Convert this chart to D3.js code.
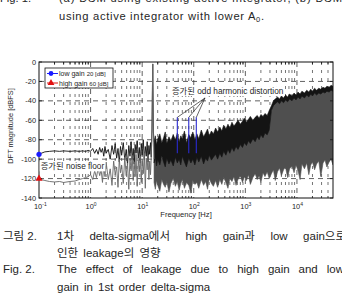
<!DOCTYPE html>
<html><head><meta charset="utf-8">
<script src="https://cdn.jsdelivr.net/npm/d3@7"></script>
<style>html,body{margin:0;padding:0;background:#fff;overflow:hidden}svg{display:block}</style>
</head><body><svg id="c" width="342" height="293"></svg>
<script>
// ---------- data ----------
const sparseF = [0.1,0.11,0.13,0.16,0.2,0.25,0.3,0.4,0.5,0.6,0.7,0.8,0.9,1.0,1.1,1.2,1.3,1.4,1.5,1.6,1.7,1.8,1.9,2.0,2.2,2.4,2.6,2.8,3.0,3.2,3.4,3.6,3.8,4.0,4.3,4.6,4.9,5.2,5.5,5.8,6.1,6.4,6.7,7.0,7.3,7.6,8.0,8.4,8.8,9.2,9.6,10,10.5,11,11.5,12,12.5,13,13.5,14,14.5,15,15.5,16,16.5,17];
const lowGainDb = [-95,-94,-92.5,-92,-91.5,-92,-91.5,-92,-91.5,-92,-91.5,-92,-91,-92,-89,-94,-90,-95,-88,-93,-89,-97,-87,-94,-90,-100,-86,-95,-84,-99,-89,-103,-87,-96,-83,-101,-90,-106,-86,-97,-82,-100,-89,-105,-85,-94,-81,-99,-88,-104,-84,-96,-80,-101,-87,-97,-82,-103,-86,-95,-83,-98,-70,-2,-72,-82];
const highGainDb = [-120,-121,-122,-123,-123.5,-123,-124,-123,-122.5,-121,-120,-119,-118,-116,-121,-112,-119,-109,-117,-111,-124,-106,-118,-103,-121,-110,-127,-102,-116,-108,-129,-100,-114,-106,-125,-98,-117,-104,-131,-99,-112,-96,-122,-103,-118,-95,-128,-101,-113,-97,-124,-100,-115,-94,-130,-99,-111,-96,-121,-102,-116,-98,-70,-2,-72,-100];

const bandF = [17,18,19,20,22,24,26,28,30,33,36,40,44,48,52,56,60,66,72,80,88,96,105,115,125,140,155,170,185,200,220,240,265,290,320,350,380,420,460,500,550,600,660,720,800,880,960,1050,1150,1250,1400,1550,1700,1850,2000,2200,2400,2650,2900,3200,3500,3800,4200,4600,5000,5500,6000,6600,7200,8000,8800,9600,10500,11500,12500,14000,15500,17000,18500,20000,22000,24000,26500,29000,32000,35000,38000,42000,46000,50000];
const lowGainTop = [-82,-76,-85,-79,-74,-83,-78,-72,-84,-77,-81,-75,-80,-73,-82,-76,-79,-71,-83,-75,-78,-72,-80,-74,-79,-70,-77,-73,-69,-76,-71,-74,-68,-72,-67,-71,-65,-69,-64,-68,-62,-66,-63,-60,-64,-61,-58,-62,-59,-56,-60,-57,-55,-58,-54,-56,-53,-55,-50,-45,-40,-38,-36,-38,-35,-37,-34,-36,-33,-35,-32,-34,-31,-33,-30,-32,-29,-31,-28,-30,-27,-29,-27,-28,-26,-27,-25,-26,-24,-25];
const lowGainBottom = [-104,-98,-107,-100,-106,-97,-103,-108,-99,-105,-101,-107,-98,-104,-100,-106,-97,-103,-108,-99,-104,-100,-106,-98,-103,-97,-105,-99,-102,-96,-101,-98,-95,-100,-94,-98,-92,-96,-90,-94,-88,-92,-87,-90,-85,-88,-83,-86,-81,-84,-79,-82,-77,-80,-75,-78,-73,-75,-70,-50,-45,-43,-41,-43,-40,-42,-39,-41,-38,-40,-37,-39,-36,-38,-35,-37,-34,-36,-33,-35,-32,-34,-32,-33,-31,-32,-30,-31,-29,-30];
const highGainTop = [-100,-96,-102,-98,-95,-101,-97,-99,-94,-100,-96,-98,-93,-99,-95,-97,-92,-98,-94,-96,-91,-97,-93,-95,-90,-96,-92,-94,-89,-95,-91,-93,-88,-92,-87,-91,-86,-90,-84,-88,-83,-87,-82,-85,-80,-83,-78,-81,-76,-79,-74,-77,-72,-75,-70,-73,-68,-71,-66,-49,-44,-42,-40,-42,-39,-41,-38,-40,-37,-39,-36,-38,-35,-37,-34,-36,-33,-35,-32,-34,-31,-33,-31,-32,-30,-31,-29,-30,-28,-29];
const highGainBottom = [-124,-131,-122,-127,-133,-121,-126,-129,-123,-134,-125,-120,-128,-123,-132,-125,-121,-130,-124,-127,-135,-122,-126,-124,-130,-121,-127,-123,-131,-120,-125,-128,-122,-129,-121,-126,-119,-124,-130,-120,-123,-118,-127,-121,-117,-124,-118,-122,-116,-126,-119,-115,-121,-117,-124,-114,-118,-113,-120,-115,-111,-122,-113,-109,-117,-111,-108,-119,-110,-107,-114,-106,-112,-121,-105,-110,-104,-116,-106,-103,-111,-105,-102,-118,-104,-101,-108,-103,-100,-106];

const harmonicF = [48, 80, 112];
const harmonicTop = [-57, -57, -57];
const harmonicBottom = [-94, -94, -94];

const yTicks = [0,-20,-40,-60,-80,-100,-120,-140];
const xTickExp = [-1,0,1,2,3,4];
const legendLabels = [["low gain ","20 [dB]"],["high gain ","60 [dB]"]];
const legendColors = ["#1a1aff","#e01010"];

// ---------- setup ----------
const svg = d3.select("#c");
const FONT = "'Liberation Sans', Arial, 'Noto Sans CJK KR', sans-serif";
const KFONT = "'Liberation Sans', 'Noto Sans CJK KR', sans-serif";
const x = d3.scaleLog().domain([0.1, 50000]).range([39, 333]);
const y = d3.scaleLinear().domain([-140, 0]).range([198, 62]);
const TXT = "#262626";

// top text (previous figure caption, cut)
const topText = svg.append("g").attr("font-family", FONT).attr("font-size", 11.2).attr("fill", TXT);
topText.append("text").attr("x", 0).attr("y", 2).text("Fig. 1.");
topText.append("text").attr("x", 59).attr("y", 2).attr("textLength", 283).attr("lengthAdjust","spacing").text("(a) DSM using existing active integrator, (b) DSM");
const t2 = topText.append("text").attr("x", 59).attr("y", 20).attr("textLength", 205).attr("lengthAdjust","spacing");
t2.append("tspan").text("using active integrator with lower A");
t2.append("tspan").attr("font-size", 7.5).attr("dy", 2).text("0");
t2.append("tspan").attr("dy", -2).text(".");

// clip
svg.append("defs").append("clipPath").attr("id","pc").append("rect")
  .attr("x",39).attr("y",62).attr("width",294).attr("height",136);

// grid
const grid = svg.append("g").attr("stroke", "#3a3a3a").attr("stroke-width", 0.8).attr("fill","none");
const minor = [];
for (let e = -1; e <= 4; e++) for (let k = 2; k <= 9; k++) { const v = k * Math.pow(10, e); if (v < 50000) minor.push(v); }
grid.selectAll(".mn").data(minor).join("line")
  .attr("x1", d => x(d)).attr("x2", d => x(d)).attr("y1", 62).attr("y2", 198)
  .attr("stroke-dasharray", "3,5").attr("stroke-width", 0.7);
grid.selectAll(".mj").data(xTickExp.slice(1)).join("line")
  .attr("x1", d => x(Math.pow(10,d))).attr("x2", d => x(Math.pow(10,d))).attr("y1", 62).attr("y2", 198)
  .attr("stroke-dasharray", "5,4");
grid.selectAll(".hy").data(yTicks.slice(1,-1)).join("line")
  .attr("x1", 39).attr("x2", 333).attr("y1", d => y(d)).attr("y2", d => y(d))
  .attr("stroke-dasharray", "5,4");

// traces
const plot = svg.append("g").attr("clip-path","url(#pc)");
const line = d3.line().x(d => x(d[0])).y(d => y(d[1]));
const area = d3.area().x(d => x(d[0])).y0(d => y(d[2])).y1(d => y(d[1]));

plot.append("path").datum(bandF.map((f,i)=>[f, highGainTop[i], highGainBottom[i]]))
  .attr("d", area).attr("fill","#4f4f4f").attr("stroke","#4f4f4f").attr("stroke-width",0.6);
plot.append("path").datum(sparseF.map((f,i)=>[f, lowGainDb[i]]))
  .attr("d", line).attr("fill","none").attr("stroke","#111").attr("stroke-width",0.9);
plot.append("path").datum(bandF.map((f,i)=>[f, lowGainTop[i], lowGainBottom[i]]))
  .attr("d", area).attr("fill","#141414").attr("stroke","#141414").attr("stroke-width",0.6);
plot.append("path").datum(sparseF.map((f,i)=>[f, highGainDb[i]]))
  .attr("d", line).attr("fill","none").attr("stroke","#666").attr("stroke-width",0.9);

// harmonic lines
plot.selectAll(".hm").data(harmonicF).join("line")
  .attr("x1", d => x(d)).attr("x2", d => x(d))
  .attr("y1", (d,i) => y(harmonicTop[i])).attr("y2", (d,i) => y(harmonicBottom[i]))
  .attr("stroke","#2a2ad0").attr("stroke-width",1.1);

// frame + ticks
const fr = svg.append("g").attr("stroke","#111").attr("fill","none");
fr.append("rect").attr("x",39).attr("y",62).attr("width",294).attr("height",136).attr("stroke-width",1);
yTicks.forEach(v => {
  fr.append("line").attr("x1",39).attr("x2",42).attr("y1",y(v)).attr("y2",y(v)).attr("stroke-width",0.8);
  fr.append("line").attr("x1",330).attr("x2",333).attr("y1",y(v)).attr("y2",y(v)).attr("stroke-width",0.8);
});
minor.forEach(v => {
  fr.append("line").attr("x1",x(v)).attr("x2",x(v)).attr("y1",198).attr("y2",196).attr("stroke-width",0.8);
  fr.append("line").attr("x1",x(v)).attr("x2",x(v)).attr("y1",62).attr("y2",64).attr("stroke-width",0.8);
});

// axis labels
const ax = svg.append("g").attr("font-family", FONT).attr("fill", TXT);
ax.selectAll(".yl").data(yTicks).join("text")
  .attr("x", 36).attr("y", d => y(d) + 2.6).attr("text-anchor","end").attr("font-size", 7.4).text(d => d);
xTickExp.forEach(e => {
  const t = ax.append("text").attr("x", x(Math.pow(10,e)) - 5).attr("y", 209).attr("font-size", 7.4);
  t.append("tspan").text("10");
  t.append("tspan").attr("font-size", 5).attr("dy", -3.5).text(e);
});
ax.append("text").attr("x", 186).attr("y", 217).attr("text-anchor","middle").attr("font-size", 7.6).text("Frequency [Hz]");
ax.append("text").attr("transform","translate(13,126) rotate(-90)").attr("text-anchor","middle").attr("font-size", 7.4).text("DFT magnitude [dBFS]");

// annotations
const an = svg.append("g").attr("font-family", KFONT).attr("fill", TXT);
const a1 = an.append("text").attr("x", x(37.8)).attr("y", y(-33)).attr("font-size", 8.3).text("증가된 odd harmonic distortion");
const bb1 = a1.node().getBBox();
an.insert("rect","text").attr("x", bb1.x-1).attr("y", bb1.y).attr("width", bb1.width+2).attr("height", bb1.height).attr("fill","#fff");
harmonicF.forEach((f,i) => {
  an.append("line").attr("x1", x(165)).attr("y1", y(-37)).attr("x2", x(f)).attr("y2", y(harmonicTop[i]))
    .attr("stroke","#222").attr("stroke-width",0.7);
});
const nb = an.append("rect").attr("fill","#fff");
const a2 = an.append("text").attr("x", x(0.108)).attr("y", y(-110.5)).attr("font-size", 8.3).text("증가된 noise floor");
const bb2 = a2.node().getBBox();
nb.attr("x", bb2.x-1).attr("y", bb2.y).attr("width", bb2.width+2).attr("height", bb2.height);

// markers at first point
svg.append("circle").attr("cx", x(sparseF[0])).attr("cy", y(lowGainDb[0])).attr("r", 2.6).attr("fill", legendColors[0]);
svg.append("path").attr("d", d3.symbol(d3.symbolTriangle, 22)()).attr("transform", `translate(${x(sparseF[0])},${y(highGainDb[0])})`).attr("fill", legendColors[1]);

// legend
const lg = svg.append("g").attr("font-family", FONT);
lg.append("rect").attr("x",45).attr("y",68).attr("width",68).attr("height",20).attr("fill","#fff").attr("stroke","#111").attr("stroke-width",0.8);
legendLabels.forEach((lab,i) => {
  const yy = 73.5 + i*9.5;
  lg.append("line").attr("x1",47).attr("x2",58).attr("y1",yy).attr("y2",yy).attr("stroke",legendColors[i]).attr("stroke-width",1);
  if (i===0) lg.append("circle").attr("cx",51).attr("cy",yy).attr("r",2.4).attr("fill",legendColors[0]);
  else lg.append("path").attr("d", d3.symbol(d3.symbolTriangle, 20)()).attr("transform",`translate(51,${yy})`).attr("fill",legendColors[1]);
  const t = lg.append("text").attr("x",59).attr("y",yy+2.5).attr("fill",TXT).attr("font-size",7);
  t.append("tspan").text(lab[0]);
  t.append("tspan").attr("font-size",6).text(lab[1]);
});

// bottom caption
const cap = svg.append("g").attr("font-family", KFONT).attr("font-size", 11.5).attr("fill", TXT);
function justify(words, x0, x1, yy) {
  const nodes = words.map(w => cap.append("text").attr("y", yy).text(w));
  const ws = nodes.map(n => n.node().getComputedTextLength());
  const gap = (x1 - x0 - d3.sum(ws)) / (words.length - 1);
  let cx = x0;
  nodes.forEach((n,i) => { n.attr("x", cx); cx += ws[i] + gap; });
}
cap.append("text").attr("x",3).attr("y",240).text("그림 2.");
justify(["1차","delta-sigma에서","high","gain과","low","gain으로"], 57, 346, 240);
cap.append("text").attr("x",57).attr("y",257).attr("word-spacing",2).text("인한 leakage의 영향");
cap.append("text").attr("x",3).attr("y",273).text("Fig. 2.");
justify(["The","effect","of","leakage","due","to","high","gain","and","low"], 57, 344, 273);
cap.append("text").attr("x",57).attr("y",291).attr("word-spacing",2).text("gain in 1st order delta-sigma");
</script></body></html>
